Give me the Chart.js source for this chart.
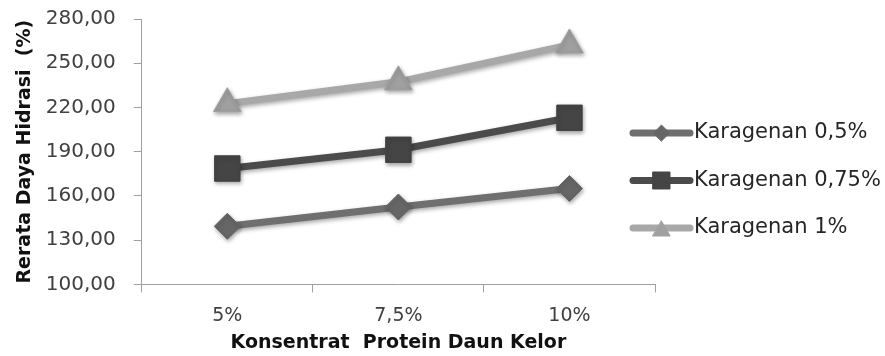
<!DOCTYPE html>
<html>
<head>
<meta charset="utf-8">
<script src="https://cdn.jsdelivr.net/npm/chart.js@4.4.1/dist/chart.umd.min.js"></script>
<style>
  html, body { margin: 0; padding: 0; background: #fff; }
  #wrap { width: 885px; height: 356px; position: relative; }
</style>
</head>
<body>
<div id="wrap"><canvas id="chart1" width="885" height="356"></canvas></div>
<script>
// data
var categories = ['5%', '7,5%', '10%'];
var seriesNames = ['Karagenan 0,5%', 'Karagenan 0,75%', 'Karagenan 1%'];
var karagenan05 = [139.4, 152.5, 165.0];
var karagenan075 = [178.6, 191.3, 213.0];
var karagenan1 = [222.6, 237.4, 262.4];
var yMin = 100, yMax = 280, yStep = 30;

var lineColors = ['#6f6f6f', '#4b4b4b', '#a8a8a8'];
var markerColors = ['#666666', '#454545', '#a0a0a0'];
var markerStyles = ['rectRot', 'rect', 'triangle'];
var markerSizes = [13, 18, 16];
var legendMarkerSizes = [8, 12, 10];

var FONT = 'DejaVu Sans';

// soft drop shadow under the lines and markers
var shadowPlugin = {
    id: 'shadow',
    beforeDatasetsDraw: function (chart) {
        var ctx = chart.ctx;
        ctx.save();
        ctx.shadowColor = 'rgba(0,0,0,0.35)';
        ctx.shadowBlur = 4;
        ctx.shadowOffsetX = 1;
        ctx.shadowOffsetY = 2;
    },
    afterDatasetsDraw: function (chart) {
        chart.ctx.restore();
    }
};

// legend on the right, line sample with marker like the original
var sideLegend = {
    id: 'sideLegend',
    afterDraw: function (chart) {
        var ctx = chart.ctx;
        var x0 = chart.chartArea.right - 22;
        var x1 = x0 + 57;
        var y0 = 133;
        ctx.save();
        chart.data.datasets.forEach(function (ds, i) {
            var y = y0 + i * 47.5;
            ctx.strokeStyle = ds.borderColor;
            ctx.lineWidth = 7;
            ctx.lineCap = 'round';
            ctx.beginPath();
            ctx.moveTo(x0, y);
            ctx.lineTo(x1, y);
            ctx.stroke();
            ctx.fillStyle = ds.pointBackgroundColor;
            ctx.strokeStyle = ds.pointBorderColor;
            ctx.lineWidth = 1;
            Chart.helpers.drawPoint(ctx, {
                pointStyle: ds.pointStyle,
                radius: legendMarkerSizes[i],
                borderWidth: 1
            }, (x0 + x1) / 2, ds.pointStyle === 'triangle' ? y + 3 : y);
            ctx.fillStyle = '#262626';
            ctx.font = '21px "' + FONT + '"';
            ctx.textBaseline = 'middle';
            ctx.textAlign = 'left';
            ctx.fillText(ds.label, x1 + 4, y);
        });
        ctx.restore();
    }
};

var seriesValues = [karagenan05, karagenan075, karagenan1];
var datasets = seriesValues.map(function (vals, i) {
    return {
        label: seriesNames[i],
        data: vals,
        borderColor: lineColors[i],
        borderWidth: 7,
        pointStyle: markerStyles[i],
        pointRadius: markerSizes[i],
        pointHoverRadius: markerSizes[i],
        pointBackgroundColor: markerColors[i],
        pointBorderColor: markerColors[i],
        pointBorderWidth: 1,
        tension: 0
    };
});

var ctx1 = document.getElementById('chart1').getContext('2d');
var chart1 = new Chart(ctx1, {
    type: 'line',
    data: {
        labels: categories,
        datasets: datasets
    },
    options: {
        responsive: false,
        animation: false,
        events: [],
        layout: {
            autoPadding: false,
            padding: { left: 14, right: 230, top: 0, bottom: 2 }
        },
        plugins: {
            legend: { display: false },
            tooltip: { enabled: false }
        },
        scales: {
            x: {
                offset: true,
                grid: {
                    offset: true,
                    drawOnChartArea: false,
                    drawTicks: true,
                    tickLength: 8,
                    color: '#a0a0a0'
                },
                border: { color: '#a0a0a0', width: 1 },
                ticks: {
                    color: '#404040',
                    font: { family: FONT, size: 19 },
                    padding: 12
                },
                title: {
                    display: true,
                    text: 'Konsentrat  Protein Daun Kelor',
                    color: '#111',
                    font: { family: FONT, size: 19, weight: 'bold' },
                    padding: { top: -8, bottom: 0 }
                }
            },
            y: {
                min: yMin,
                max: yMax,
                // label padding should only push labels sideways, not the plot top down
                afterFit: function (scale) {
                    scale.paddingTop = 19;
                    scale.paddingBottom = 0;
                },
                grid: {
                    drawOnChartArea: false,
                    drawTicks: true,
                    tickLength: 8,
                    color: '#a0a0a0'
                },
                border: { color: '#a0a0a0', width: 1 },
                ticks: {
                    stepSize: yStep,
                    color: '#404040',
                    font: { family: FONT, size: 20 },
                    padding: 18,
                    callback: function (v) {
                        return v.toFixed(2).replace('.', ',');
                    }
                },
                title: {
                    display: true,
                    text: 'Rerata Daya Hidrasi  (%)',
                    color: '#111',
                    font: { family: FONT, size: 19, weight: 'bold' },
                    padding: { top: 0, bottom: -9 }
                }
            }
        }
    },
    plugins: [shadowPlugin, sideLegend]
});
</script>
</body>
</html>
